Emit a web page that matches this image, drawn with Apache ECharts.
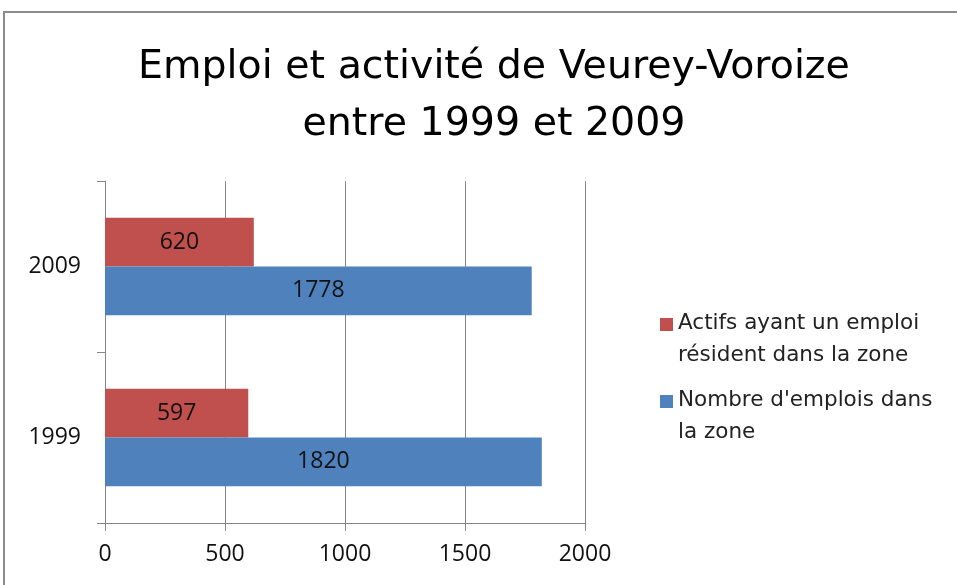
<!DOCTYPE html>
<html>
<head>
<meta charset="utf-8">
<script src="https://cdn.jsdelivr.net/npm/echarts@6/dist/echarts.min.js"></script>
<style>
  html, body { margin: 0; padding: 0; background: #fff; }
  #chart { width: 957px; height: 585px; }
</style>
</head>
<body>
<div id="chart"></div>
<script>
// données
const annees = ['1999', '2009']
const emplois = [1820, 1778]   // Nombre d'emplois dans la zone
const actifs = [597, 620]      // Actifs ayant un emploi résident dans la zone
const ticksX = [0, 500, 1000, 1500, 2000]

const nomActifs = 'Actifs ayant un emploi\nrésident dans la zone'
const nomEmplois = "Nombre d'emplois dans\nla zone"

// carré de légende aligné sur la première ligne du texte
const iconeLegende = 'path://M0,0L0.1,0L0.1,0.1Z M0,11L13,11L13,24L0,24Z M0,63.9L0.1,63.9L0.1,64Z'

let myChart = echarts.init(document.getElementById('chart'))

const labelBarre = {
  show: true,
  position: 'inside',
  color: '#111',
  fontSize: 23,
  fontFamily: 'Open Sans'
}

myChart.setOption({
  animation: false,
  title: {
    text: 'Emploi et activité de Veurey-Voroize\nentre 1999 et 2009',
    left: 489,
    textAlign: 'center',
    top: 34,
    textStyle: {
      fontFamily: 'DejaVu Sans',
      fontWeight: 'normal',
      fontSize: 39.5,
      lineHeight: 57,
      color: '#000'
    }
  },
  graphic: [{
    type: 'rect',
    shape: { x: 4, y: 12, width: 1100, height: 700 },
    style: { fill: 'none', stroke: '#8c8c8c', lineWidth: 2 },
    silent: true
  }],
  legend: {
    orient: 'vertical',
    left: 655,
    top: 302,
    data: [nomActifs, nomEmplois],
    icon: iconeLegende,
    itemWidth: 13,
    itemHeight: 64,
    itemGap: 13,
    textStyle: {
      fontFamily: 'DejaVu Sans',
      fontSize: 21.5,
      lineHeight: 32,
      color: '#222'
    }
  },
  grid: {
    left: 105,
    right: 957 - 585,
    top: 181,
    bottom: 585 - 523
  },
  xAxis: {
    type: 'value',
    min: ticksX[0],
    max: ticksX[ticksX.length - 1],
    interval: 500,
    axisLine: { show: true, lineStyle: { color: '#868686' } },
    axisTick: { show: true, length: 8, lineStyle: { color: '#868686' } },
    splitLine: { show: true, lineStyle: { color: '#868686' } },
    axisLabel: {
      margin: 20,
      fontSize: 23,
      fontFamily: 'Open Sans',
      color: '#111',
      formatter: v => String(v)
    }
  },
  yAxis: {
    type: 'category',
    data: annees,
    axisLine: { show: true, lineStyle: { color: '#868686' } },
    axisTick: { show: true, length: 8, lineStyle: { color: '#868686' } },
    axisLabel: {
      margin: 24,
      fontSize: 23,
      fontFamily: 'Open Sans',
      color: '#111'
    }
  },
  series: [
    {
      name: nomActifs,
      type: 'bar',
      data: actifs,
      itemStyle: { color: '#C0504D' },
      barGap: '0%',
      barCategoryGap: '43%',
      label: labelBarre
    },
    {
      name: nomEmplois,
      type: 'bar',
      data: emplois,
      itemStyle: { color: '#4F81BD' },
      barGap: '0%',
      barCategoryGap: '43%',
      label: labelBarre
    }
  ]
})

window.onresize = () => {
  myChart.resize()
}
</script>
</body>
</html>
